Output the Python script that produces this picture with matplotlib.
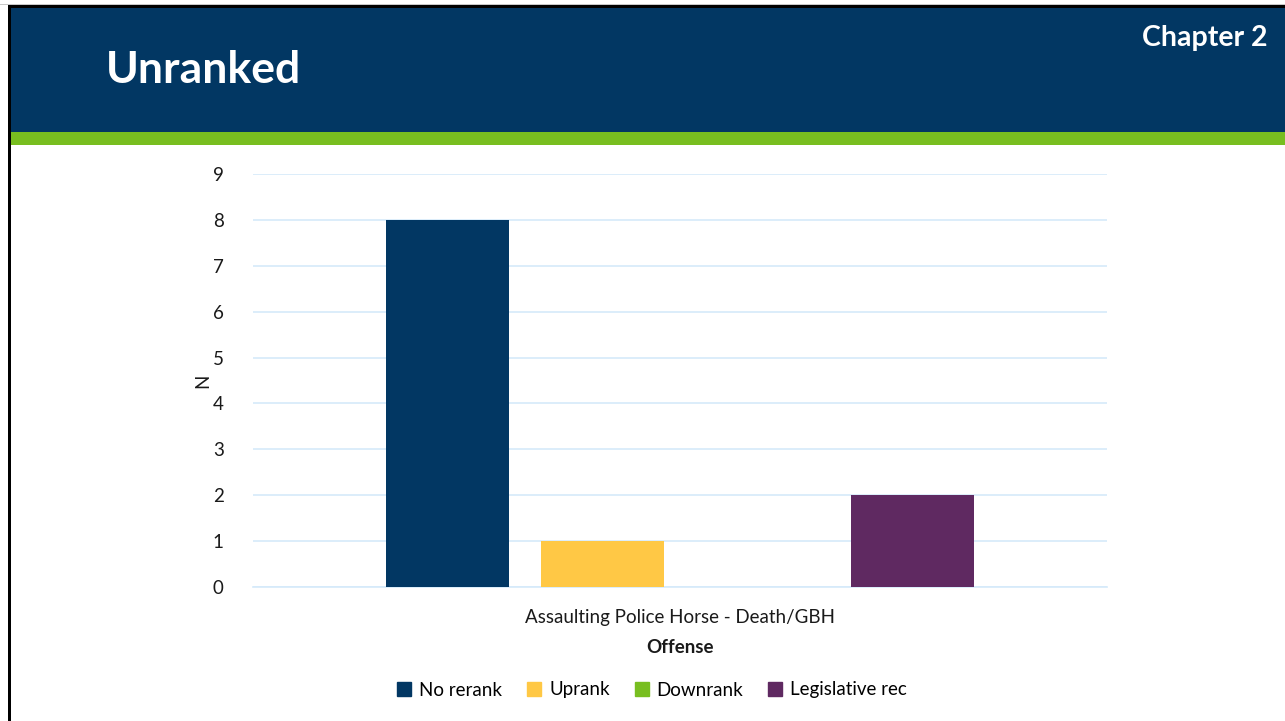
import matplotlib.pyplot as plt
import numpy as np
from matplotlib.patches import Rectangle
from matplotlib.lines import Line2D

categories = ["Assaulting Police Horse - Death/GBH"]
series_names = ["No rerank", "Uprank", "Downrank", "Legislative rec"]
series_values = [[8], [1], [0], [2]]
series_colors = ["#023763", "#FFC845", "#78BE20", "#5F2961"]
y_ticks = list(range(0, 10))

plt.rcParams["font.family"] = ["Lato", "DejaVu Sans"]

W, H = 1285, 721
fig = plt.figure(figsize=(W / 100, H / 100), dpi=100)

# header band and frame
fig.patches.append(Rectangle((10 / W, 1 - 132 / H), 1, 125 / H, transform=fig.transFigure,
                             facecolor="#023763", edgecolor="none", zorder=0))
fig.patches.append(Rectangle((10 / W, 1 - 145 / H), 1, 13 / H, transform=fig.transFigure,
                             facecolor="#78BE20", edgecolor="none", zorder=0))
fig.patches.append(Rectangle((8 / W, 0), 2.5 / W, 1 - 5 / H, transform=fig.transFigure,
                             facecolor="black", edgecolor="none", zorder=1))
fig.patches.append(Rectangle((8 / W, 1 - 7.5 / H), 1, 2.5 / H, transform=fig.transFigure,
                             facecolor="black", edgecolor="none", zorder=1))
fig.patches.append(Rectangle((0, 1 - 5 / H), 1, 1.5 / H, transform=fig.transFigure,
                             facecolor="#C8C8C8", edgecolor="none", zorder=1))

fig.text(106 / W, 1 - 70 / H, "Unranked", color="white", fontsize=32, fontweight="bold",
         va="center", ha="left")
fig.text(1268 / W, 1 - 38 / H, "Chapter 2", color="white", fontsize=20.5, fontweight="bold",
         va="center", ha="right")

ax = fig.add_axes([253 / W, 1 - 587 / H, 854 / W, 413 / H])
x = np.arange(len(categories))
bar_w = 0.144
step = 0.1815
for i, (name, vals, col) in enumerate(zip(series_names, series_values, series_colors)):
    ax.bar(x + (i - 1.5) * step, vals, width=bar_w, color=col, label=name, zorder=3)

grid_col = "#D5EAFA"
ax.set_xlim(-0.5, 0.5)
ax.set_ylim(0, 9)
ax.set_yticks(y_ticks)
ax.set_xticks(x)
ax.set_xticklabels(categories)
ax.grid(axis="y", color=grid_col, linewidth=1.2, zorder=0)
for s in ["top", "right", "left"]:
    ax.spines[s].set_visible(False)
ax.spines["bottom"].set_color(grid_col)
ax.spines["bottom"].set_linewidth(1.2)
ax.tick_params(axis="both", length=0, labelsize=13.5, colors="#1a1a1a")
ax.tick_params(axis="y", pad=21)
ax.tick_params(axis="x", pad=16)
ax.set_ylabel("N", fontsize=13.5, color="#1a1a1a")
ax.yaxis.set_label_coords(-42 / 854, 0.5)
ax.set_xlabel("Offense", fontsize=13.5, fontweight="bold", color="#1a1a1a", labelpad=9)

handles = [Line2D([], [], marker="s", linestyle="none", markersize=9.5, color=c) for c in series_colors]
fig.legend(handles, series_names, loc="center", bbox_to_anchor=(651 / W, 1 - 690 / H),
           ncol=4, frameon=False, fontsize=13.5, handletextpad=0.3, columnspacing=1.2,
           handlelength=1.0)

fig.savefig("out.png", dpi=100)
